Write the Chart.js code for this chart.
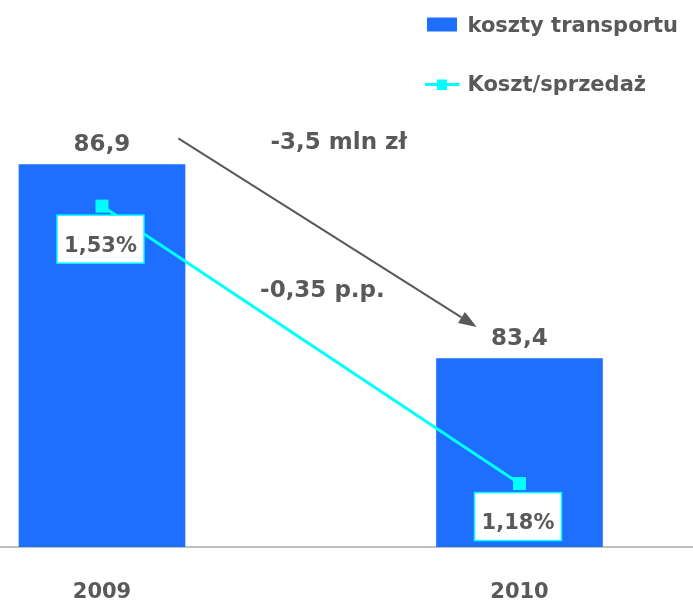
<!DOCTYPE html>
<html>
<head>
<meta charset="utf-8">
<script src="https://cdn.jsdelivr.net/npm/chart.js@4/dist/chart.umd.min.js"></script>
<style>
  html, body { margin: 0; padding: 0; background: #ffffff; }
  #wrap { width: 693px; height: 602px; }
</style>
</head>
<body>
<div id="wrap"><canvas id="c" width="693" height="602"></canvas></div>
<script>
// ---- data ----
const years = [2009, 2010];
const costs = [86.9, 83.4];            // koszty transportu (mln zł)
const costRatio = [1.53, 1.18];        // Koszt/sprzedaż (%)
const seriesNames = ['koszty transportu', 'Koszt/sprzedaż'];
const changeLabels = ['-3,5 mln zł', '-0,35 p.p.'];

const TEXT = '#595959';
const BAR = '#1E6EFF';
const CYAN = '#00FFFF';
const FONT = '"DejaVu Sans", sans-serif';

const fmt1 = v => v.toFixed(1).replace('.', ',');
const fmtPct = v => v.toFixed(2).replace('.', ',') + '%';

const labelsPlugin = {
  id: 'labelsPlugin',
  afterDatasetsDraw(chart) {
    const ctx = chart.ctx;
    const xs = chart.scales.x, ys = chart.scales.y, y2 = chart.scales.y2;
    ctx.save();
    ctx.fillStyle = TEXT;
    ctx.textAlign = 'center';
    ctx.textBaseline = 'alphabetic';

    // bar value labels
    const barMeta = chart.getDatasetMeta(1);
    ctx.font = 'bold 23px ' + FONT;
    barMeta.data.forEach((el, i) => {
      ctx.fillText(fmt1(costs[i]), el.x, el.y - 13.5);
    });

    // line value labels in boxes
    const lineMeta = chart.getDatasetMeta(0);
    ctx.font = 'bold 21px ' + FONT;
    lineMeta.data.forEach((el, i) => {
      const bw = 87, bh = 48;
      const bx = el.x - 1.5 - bw / 2, by = el.y + 9;
      ctx.fillStyle = '#ffffff';
      ctx.fillRect(bx, by, bw, bh);
      ctx.strokeStyle = CYAN;
      ctx.lineWidth = 1.5;
      ctx.strokeRect(bx, by, bw, bh);
      ctx.fillStyle = TEXT;
      ctx.fillText(fmtPct(costRatio[i]), el.x - 1.5, el.y + 45.5);
    });

    // change annotations
    const a = chart.options.plugins.labelsPlugin;
    ctx.font = 'bold 23px ' + FONT;
    ctx.fillText(changeLabels[0], xs.getPixelForValue(a.costText.x), ys.getPixelForValue(a.costText.y));
    ctx.fillText(changeLabels[1], xs.getPixelForValue(a.ratioText.x), y2.getPixelForValue(a.ratioText.y));

    // arrow
    const x1 = xs.getPixelForValue(a.arrow.x1), yy1 = ys.getPixelForValue(a.arrow.y1);
    const x2 = xs.getPixelForValue(a.arrow.x2), yy2 = ys.getPixelForValue(a.arrow.y2);
    const ang = Math.atan2(yy2 - yy1, x2 - x1);
    const hl = 18, hw = 6.5;
    const bxp = x2 - hl * Math.cos(ang), byp = yy2 - hl * Math.sin(ang);
    ctx.strokeStyle = TEXT;
    ctx.lineWidth = 2;
    ctx.beginPath();
    ctx.moveTo(x1, yy1);
    ctx.lineTo(bxp, byp);
    ctx.stroke();
    ctx.beginPath();
    ctx.moveTo(x2, yy2);
    ctx.lineTo(bxp + hw * Math.sin(ang), byp - hw * Math.cos(ang));
    ctx.lineTo(bxp - hw * Math.sin(ang), byp + hw * Math.cos(ang));
    ctx.closePath();
    ctx.fillStyle = TEXT;
    ctx.fill();

    // legend
    const ds = chart.data.datasets;
    ctx.textAlign = 'left';
    ctx.font = 'bold 21px ' + FONT;
    // bar item
    ctx.fillStyle = ds[1].backgroundColor;
    ctx.fillRect(427, 17.5, 30, 14);
    ctx.fillStyle = TEXT;
    ctx.fillText(ds[1].label, 467.5, 31.7);
    // line item
    ctx.strokeStyle = ds[0].borderColor;
    ctx.lineWidth = 3;
    ctx.beginPath();
    ctx.moveTo(425, 84.5);
    ctx.lineTo(459.5, 84.5);
    ctx.stroke();
    ctx.fillStyle = ds[0].backgroundColor;
    ctx.fillRect(437, 79.5, 10, 10.5);
    ctx.fillStyle = TEXT;
    ctx.fillText(ds[0].label, 467.5, 91);
    ctx.restore();
  }
};

new Chart(document.getElementById('c'), {
  type: 'bar',
  data: {
    datasets: [
      {
        type: 'line',
        label: seriesNames[1],
        data: years.map((yr, i) => ({ x: yr, y: costRatio[i] })),
        yAxisID: 'y2',
        borderColor: CYAN,
        backgroundColor: CYAN,
        borderWidth: 3,
        pointStyle: 'rect',
        pointRadius: 9.2,
        pointBorderWidth: 0,
        tension: 0,
        clip: false,
        order: 0
      },
      {
        type: 'bar',
        label: seriesNames[0],
        data: years.map((yr, i) => ({ x: yr, y: costs[i] })),
        yAxisID: 'y',
        backgroundColor: BAR,
        borderWidth: 0,
        barThickness: 166,
        order: 1
      }
    ]
  },
  options: {
    responsive: false,
    animation: false,
    devicePixelRatio: 1,
    layout: { padding: 0, autoPadding: false },
    plugins: {
      legend: { display: false },
      tooltip: { enabled: false },
      labelsPlugin: {
        costText: { x: 2009.567, y: 87.175 },
        ratioText: { x: 2009.528, y: 1.4157 },
        arrow: { x1: 2009.1828, y1: 87.373, x2: 2009.8975, y2: 83.969 }
      }
    },
    scales: {
      x: {
        type: 'linear',
        min: 2008.7557,
        max: 2010.4156,
        offset: false,
        grid: { display: false, drawTicks: false },
        border: { display: true, color: '#BFBFBF', width: 2 },
        afterBuildTicks: s => { s.ticks = years.map(v => ({ value: v })); },
        afterFit: s => { s.height = 55; },
        ticks: {
          padding: 33,
          autoSkip: false,
          maxRotation: 0,
          color: TEXT,
          font: { family: FONT, size: 21, weight: 'bold' },
          callback: v => String(v)
        }
      },
      y: { display: false, min: 80, max: 89.87 },
      y2: { display: false, min: 1.1, max: 1.79 }
    }
  },
  plugins: [labelsPlugin]
});
</script>
</body>
</html>
